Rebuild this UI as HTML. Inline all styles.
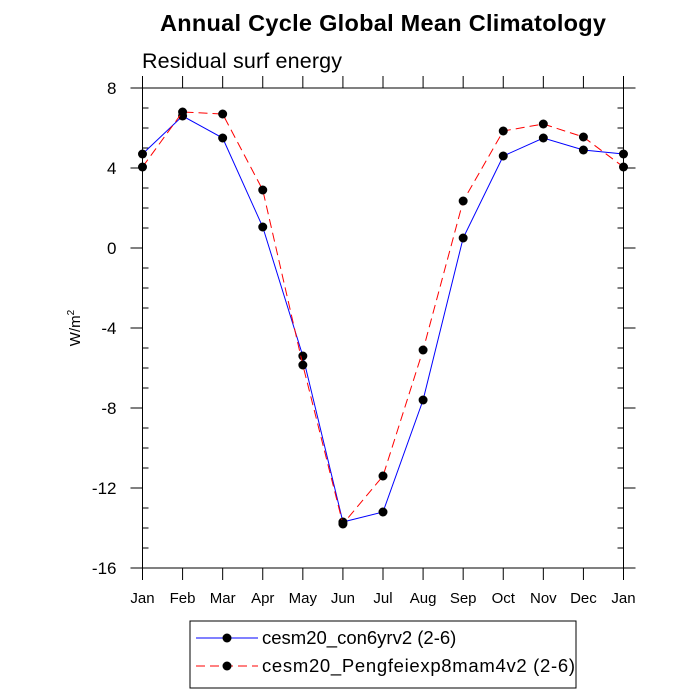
<!DOCTYPE html>
<html><head><meta charset="utf-8"><style>body{margin:0;background:#fff}svg{display:block}</style></head>
<body>
<svg id="c" width="700" height="700" xmlns="http://www.w3.org/2000/svg" font-family="Liberation Sans, sans-serif">
<text x="383" y="31" text-anchor="middle" font-size="23.5" font-weight="bold" textLength="446">Annual Cycle Global Mean Climatology</text>
<text x="142" y="68" font-size="21.5" textLength="200">Residual surf energy</text>
<text transform="translate(80,328) rotate(-90)" text-anchor="middle" font-size="15">W/m<tspan dy="-6" font-size="10">2</tspan></text>
<g id="axes"></g>
<g id="series"></g>
<g>
<rect x="190" y="621" width="386" height="67" fill="#fff" stroke="#000" stroke-width="1"/>
<line x1="196" y1="638" x2="258" y2="638" stroke="#0000ff" stroke-width="1"/>
<circle cx="227" cy="638" r="4.5" fill="#000"/>
<text x="262" y="644" font-size="18.5">cesm20_con6yrv2 (2-6)</text>
<line x1="196" y1="666" x2="258" y2="666" stroke="#ff0000" stroke-width="1" stroke-dasharray="9,5"/>
<circle cx="227" cy="666" r="4.5" fill="#000"/>
<text x="262" y="672" font-size="18.5" textLength="313">cesm20_Pengfeiexp8mam4v2 (2-6)</text>
</g>
</svg>
<script>
const months=["Jan","Feb","Mar","Apr","May","Jun","Jul","Aug","Sep","Oct","Nov","Dec","Jan"];
const seriesA=[4.7,6.6,5.5,1.05,-5.4,-13.7,-13.2,-7.6,0.5,4.6,5.5,4.9,4.7];
const seriesB=[4.05,6.8,6.7,2.9,-5.85,-13.8,-11.4,-5.1,2.35,5.85,6.2,5.55,4.05];
const yTicks=[8,4,0,-4,-8,-12,-16];
const yTickLabels=["8","4","0","-4","-8","-12","-16"];
const L=142.5,R=623.5,T=88,B=568,ymin=-16,ymax=8;
const xs=i=>L+(R-L)*i/(months.length-1);
const ys=v=>T+(ymax-v)/(ymax-ymin)*(B-T);
const NS="http://www.w3.org/2000/svg";
function mk(p,tag,at){const e=document.createElementNS(NS,tag);for(const k in at)e.setAttribute(k,at[k]);p.appendChild(e);return e;}
const ax=document.getElementById('axes');
const fr=mk(ax,'rect',{x:L,y:T,width:R-L,height:B-T,fill:'none',stroke:'#000','stroke-width':1});


months.forEach((m,i)=>{const x=xs(i);
mk(ax,'line',{x1:x,y1:B,x2:x,y2:B+12,stroke:'#000'});
mk(ax,'line',{x1:x,y1:T,x2:x,y2:T-12,stroke:'#000'});
const t=mk(ax,'text',{x:x,y:B+35,'text-anchor':'middle','font-size':15});t.textContent=m;

});
for(let v=ymin;v<=ymax;v++){const y=ys(v);
if(v%4===0){mk(ax,'line',{x1:L-12,y1:y,x2:L,y2:y,stroke:'#000'});mk(ax,'line',{x1:R,y1:y,x2:R+12,y2:y,stroke:'#000'});}
else{mk(ax,'line',{x1:L,y1:y,x2:L+6,y2:y,stroke:'#000'});mk(ax,'line',{x1:R-6,y1:y,x2:R,y2:y,stroke:'#000'});}}
yTicks.forEach((v,i)=>{const t=mk(ax,'text',{x:L-26,y:ys(v)+6,'text-anchor':'end','font-size':17});t.textContent=yTickLabels[i];

});
const sg=document.getElementById('series');
function draw(vals,color,dash,name){
const g=mk(sg,'g',{});


const at={points:vals.map((v,i)=>xs(i)+','+ys(v)).join(' '),fill:'none',stroke:color,'stroke-width':1};
if(dash)at['stroke-dasharray']=dash;mk(g,'polyline',at);
vals.forEach((v,i)=>{const c=mk(g,'circle',{cx:xs(i),cy:ys(v),r:4.5,fill:'#000'});

});}
draw(seriesA,'#0000ff',null,'series-cesm20-con6yrv2');
draw(seriesB,'#ff0000','9,5','series-pengfei');
</script>
</body></html>
